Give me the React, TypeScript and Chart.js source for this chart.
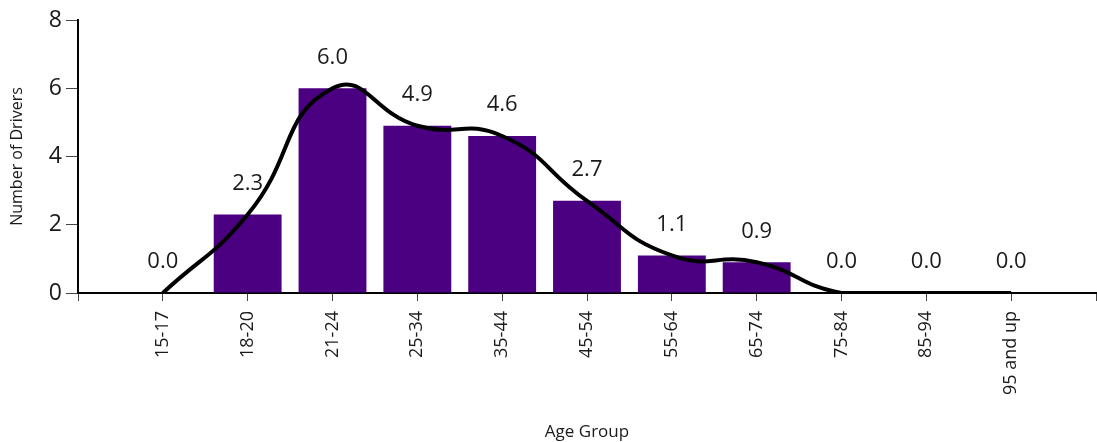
import React, { useEffect, useRef } from "react";
import { Chart, registerables } from "chart.js";

Chart.register(...registerables);

const ageGroups: string[] = ["15-17", "18-20", "21-24", "25-34", "35-44", "45-54", "55-64", "65-74", "75-84", "85-94", "95 and up"];
const drivers: number[] = [0.0, 2.3, 6.0, 4.9, 4.6, 2.7, 1.1, 0.9, 0.0, 0.0, 0.0];
const yTicks: number[] = [0, 2, 4, 6, 8];

const FONT = "'Open Sans', sans-serif";

export default function App() {
  const ref = useRef<HTMLCanvasElement | null>(null);

  useEffect(() => {
    if (!ref.current) return;
    // pad one empty slot on each side so the categories sit one step from the axes
    const labels = ["", ...ageGroups, ""];
    const padded = [null, ...drivers, null];

    const valueLabels = {
      id: "valueLabels",
      afterDatasetsDraw(chart: any) {
        const meta = chart.getDatasetMeta(0);
        const ctx = chart.ctx;
        ctx.save();
        ctx.font = `22px ${FONT}`;
        ctx.fillStyle = "#1a1a1a";
        ctx.textAlign = "center";
        ctx.textBaseline = "middle";
        meta.data.forEach((el: any, i: number) => {
          const v = padded[i];
          if (v === null || v === undefined) return;
          ctx.fillText((v as number).toFixed(1), el.x, el.y - 31);
        });
        ctx.restore();
      },
    };

    const chart = new Chart(ref.current, {
      type: "bar",
      data: {
        labels,
        datasets: [
          {
            type: "bar",
            data: padded as any,
            backgroundColor: "#4B0082",
            borderWidth: 0,
            barPercentage: 0.8,
            categoryPercentage: 1.0,
            order: 2,
          },
          {
            type: "line",
            data: padded as any,
            borderColor: "#000000",
            borderWidth: 4,
            pointRadius: 0,
            tension: 0.5,
            fill: false,
            order: 1,
          } as any,
        ],
      },
      options: {
        responsive: false,
        animation: false,
        layout: { padding: { top: 20, right: 1, left: 0, bottom: 0 } },
        plugins: {
          legend: { display: false },
          tooltip: { enabled: false },
        },
        scales: {
          x: {
            type: "category",
            offset: false,
            grid: {
              offset: false,
              drawOnChartArea: false,
              drawTicks: true,
              tickLength: 8,
              color: "#444",
              lineWidth: 1,
            },
            border: { display: true, color: "#000", width: 2 },
            ticks: {
              autoSkip: false,
              minRotation: 90,
              maxRotation: 90,
              padding: 10,
              color: "#1a1a1a",
              font: { family: FONT, size: 18 },
            },
            title: {
              display: true,
              text: "Age Group",
              color: "#1a1a1a",
              font: { family: FONT, size: 17 },
              padding: { top: 0, bottom: 0 },
            },
            afterFit(scale: any) {
              scale.height = 149;
              scale.paddingLeft = 0;
              scale.paddingRight = 0;
            },
          },
          y: {
            min: 0,
            max: 8,
            afterBuildTicks(scale: any) {
              scale.ticks = yTicks.map((v) => ({ value: v }));
            },
            grid: {
              drawOnChartArea: false,
              drawTicks: true,
              tickLength: 12,
              color: "#444",
              lineWidth: 1,
            },
            border: { display: true, color: "#000", width: 2 },
            ticks: {
              padding: 4,
              color: "#1a1a1a",
              font: { family: FONT, size: 23 },
            },
            title: {
              display: true,
              text: "Number of Drivers",
              color: "#1a1a1a",
              font: { family: FONT, size: 16 },
              padding: { top: 8, bottom: 0 },
            },
            afterFit(scale: any) {
              scale.width = 78;
            },
          },
        },
      },
      plugins: [valueLabels],
    });
    return () => chart.destroy();
  }, []);

  return (
    <div style={{ position: "fixed", left: 0, top: 0, width: 1097, height: 442, background: "#fff" }}>
      <canvas ref={ref} width={1097} height={442} style={{ display: "block" }} />
    </div>
  );
}
